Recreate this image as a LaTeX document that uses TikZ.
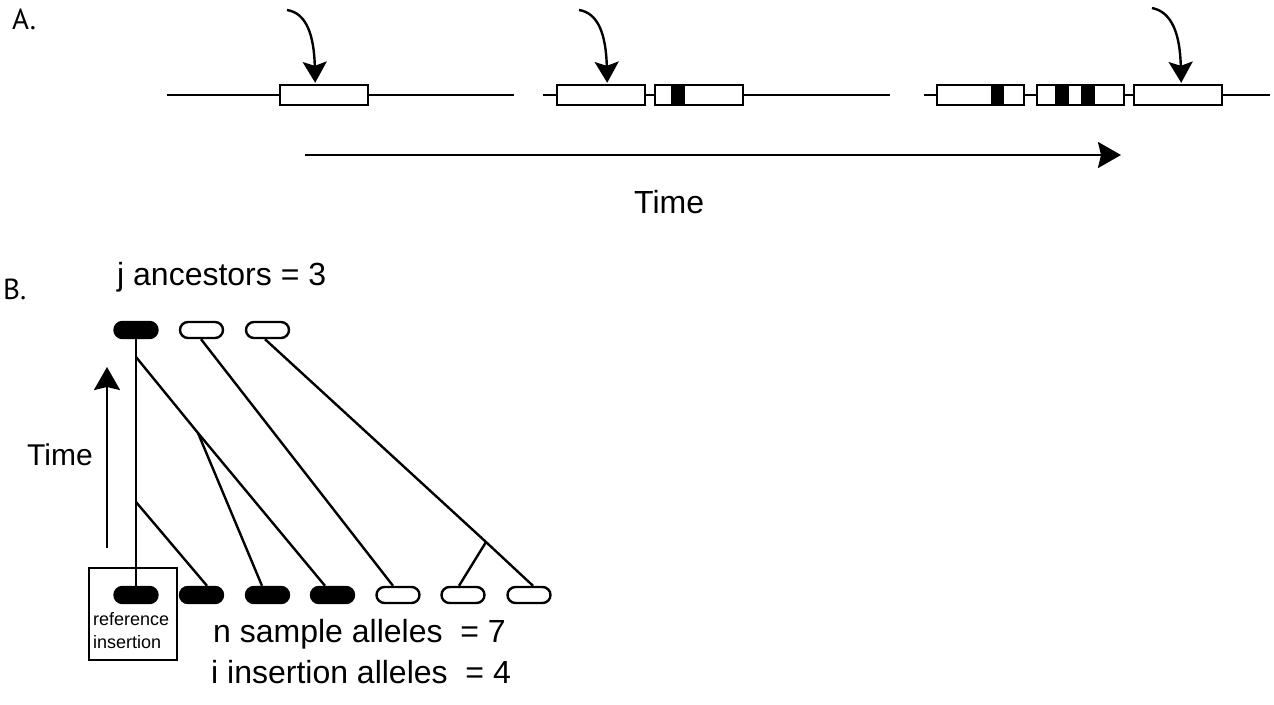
\documentclass[tikz,border=0pt]{standalone}
\usepackage{fontspec}
\setmainfont{Liberation Sans}
\newfontfamily\panelfont{PT Sans}
\usetikzlibrary{arrows.meta,calc}
\begin{document}
\begin{tikzpicture}[x=1pt,y=-1pt,
  ln/.style={line width=2.4pt},
  tebox/.style={draw,line width=2.4pt,fill=white,minimum width=#1,minimum height=20pt,inner sep=0pt,anchor=west},
  band/.style={fill=black},
  allele/.style={draw,line width=2.4pt,minimum width=43pt,minimum height=16pt,rounded corners=8pt,inner sep=0pt},
  ins/.style={allele,fill=black},
  noins/.style={allele,fill=white},
  bigarrow/.style={line width=2.4pt,-{Stealth[length=23pt,width=26pt,inset=3pt]}},
  insarrow/.style={line width=2.4pt,-{Stealth[length=21pt,width=24pt,inset=4pt]}},
  txt/.style={anchor=base west,inner sep=0pt,font=\fontsize{32}{38}\selectfont},
  smalltxt/.style={anchor=base west,inner sep=0pt,font=\fontsize{18}{22}\selectfont},
  paneltxt/.style={anchor=base west,inner sep=0pt,font=\panelfont\fontsize{29}{34}\selectfont}
]
\useasboundingbox (0,0) rectangle (1274,704);

% ---------- Panel A ----------
\node[paneltxt] (labA) at (12,29) {A.};

% strand 1
\coordinate (s1l) at (167,95);
\coordinate (s1r) at (514,95);
\draw[ln] (s1l) -- (s1r);
\node[tebox=88pt] (a1) at (279,95) {};

% strand 2
\coordinate (s2l) at (543,95);
\coordinate (s2r) at (890,95);
\draw[ln] (s2l) -- (s2r);
\node[tebox=88pt] (b1box) at (556,95) {};
\node[tebox=88pt] (b2box) at (654,95) {};
\fill[band] (671,85) rectangle (685,105);

% strand 3
\coordinate (s3l) at (924,95);
\coordinate (s3r) at (1270,95);
\draw[ln] (s3l) -- (s3r);
\node[tebox=87pt] (c1box) at (936,95) {};
\node[tebox=87pt] (c2box) at (1036,95) {};
\node[tebox=88pt] (c3box) at (1133,95) {};
\fill[band] (991,85) rectangle (1004,105);
\fill[band] (1055,85) rectangle (1069,105);
\fill[band] (1081,85) rectangle (1095,105);

% insertion arrows
\coordinate (i1) at (287,10);
\coordinate (i2) at (579,10);
\coordinate (i3) at (1152,8);
\draw[insarrow] (i1) .. controls (306,13) and (314,34) .. ($(a1.north)+(-9,-1)$);
\draw[insarrow] (i2) .. controls (598,13) and (606,34) .. ($(b1box.north)+(6,-1)$);
\draw[insarrow] (i3) .. controls (1172,12) and (1180,34) .. ($(c3box.north)+(3,-1)$);

% time arrow A
\coordinate (tA0) at (305,155);
\coordinate (tA1) at (1121,155);
\draw[bigarrow] (tA0) -- (tA1);
\node[txt] (timeA) at (634,213) {Time};

% ---------- Panel B ----------
\node[paneltxt] (labB) at (3,299) {B.};
\node[txt] (janc) at (117,285) {j ancestors = 3};

% ancestors
\node[ins]   (t1) at (136,330) {};
\node[noins] (t2) at (201.5,330) {};
\node[noins] (t3) at (267.5,330) {};

% reference box
\node[draw,line width=1.8pt,minimum width=88pt,minimum height=92pt,inner sep=0pt] (refbox) at (133,614) {};
\node[smalltxt] (ref1) at (93,625) {reference};
\node[smalltxt] (ref2) at (93,648) {insertion};

% samples
\node[ins]   (b1) at (136,595) {};
\node[ins]   (b2) at (201.5,595) {};
\node[ins]   (b3) at (267.5,595) {};
\node[ins]   (b4) at (332.5,595) {};
\node[noins] (b5) at (398,595) {};
\node[noins] (b6) at (463,595) {};
\node[noins] (b7) at (529,595) {};

% branch points
\coordinate (p1) at (136,357);
\coordinate (p2) at (198,433);
\coordinate (p3) at (136,502);
\coordinate (p4) at (486,542);

% genealogy
\draw[ln] (t1.south) -- (b1.north);
\draw[ln] (p1) -- (p2) -- ($(b4.north)+(-7.5,0)$);
\draw[ln] (p2) -- ($(b3.north)+(-5.5,0)$);
\draw[ln] (p3) -- ($(b2.north)+(5.5,0)$);
\draw[ln] ($(t2.south)+(-0.5,0)$) -- ($(b5.north)+(-5,0)$);
\draw[ln] ($(t3.south)+(-2.5,0)$) -- (p4) -- ($(b7.north)+(4,0)$);
\draw[ln] (p4) -- ($(b6.north)+(-4,0)$);

% time arrow B
\coordinate (tB0) at (107,548);
\coordinate (tB1) at (107,367);
\draw[bigarrow] (tB0) -- (tB1);
\node[txt,font=\fontsize{30}{36}\selectfont] (timeB) at (27,465) {Time};

% counts
\node[txt] (nsamp) at (213,642) {n sample alleles\ \ = 7};
\node[txt] (iins) at (211,683) {i insertion alleles\ \ = 4};
\end{tikzpicture}
\end{document}
